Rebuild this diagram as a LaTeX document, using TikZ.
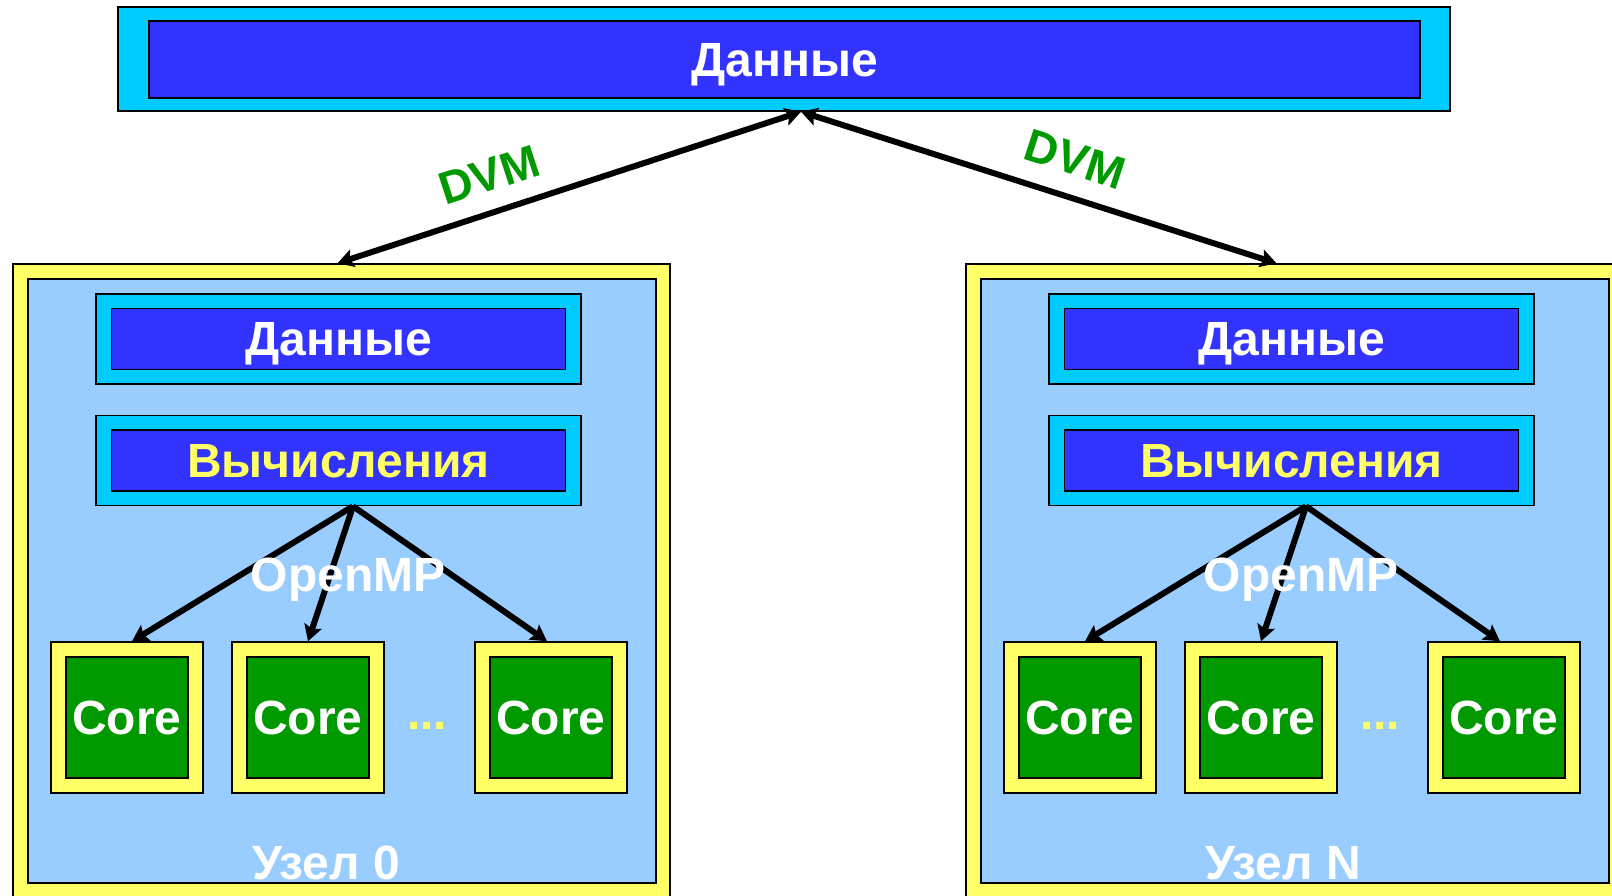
\documentclass[tikz,border=0pt]{standalone}
\usepackage{fontspec}
\setmainfont{Liberation Sans}
\usetikzlibrary{arrows.meta}
\definecolor{framecyan}{HTML}{00CCFF}
\definecolor{boxblue}{HTML}{3333FF}
\definecolor{hostyellow}{HTML}{FFFF66}
\definecolor{hostblue}{HTML}{99CCFF}
\definecolor{coregreen}{HTML}{009900}

\begin{document}
\begin{tikzpicture}[x=1pt, y=-1pt,
  every node/.style = {inner sep=0pt, font=\fontsize{48}{56}\selectfont\bfseries},
  frame/.style = {draw, line width=1.5pt, fill=framecyan},
  box/.style = {draw, line width=1.5pt, fill=boxblue, text=white, text depth=0pt},
  subframe/.style = {frame, minimum width=485pt, minimum height=90pt},
  subbox/.style = {box, minimum width=454pt, minimum height=61pt},
  hostframe/.style = {draw, line width=1.5pt, fill=hostyellow,
    minimum width=657pt, minimum height=635pt},
  hostarea/.style = {draw, line width=1.5pt, fill=hostblue,
    minimum width=628pt, minimum height=604pt},
  coreframe/.style = {draw, line width=1.5pt, fill=hostyellow,
    minimum width=152pt, minimum height=151pt},
  core/.style = {draw, line width=1.5pt, fill=coregreen, text=white,
    minimum width=122pt, minimum height=121pt},
  link/.style = {line width=6pt, -{Stealth[length=16pt, width=18pt, inset=3pt]}},
  dvmlink/.style = {line width=6pt,
    {Stealth[length=16pt, width=18pt, inset=3pt]}-{Stealth[length=16pt, width=18pt, inset=3pt]}},
  dvm/.style = {text=coregreen, font=\fontsize{46}{54}\selectfont\bfseries}]
\useasboundingbox (0,0) rectangle (1612,895);

% shared data
\node[frame, minimum width=1332pt, minimum height=104pt] (topframe) at (784,59) {};
\node[box, minimum width=1271pt, minimum height=77pt] (topdata) at (784.5,59.5) {Данные};

% node 0
\node[hostframe] (host0) at (341.5,581.5) {};
\node[hostarea] (area0) at (342,581) {};
\node[subframe] (dataframe0) at (338.5,339) {};
\node[subbox] (data0) at (dataframe0) {Данные};
\node[subframe] (calcframe0) at (338.5,460.5) {};
\node[subbox, text=hostyellow] (calc0) at (calcframe0) {Вычисления};
\node[coreframe] (coreframe01) at (127,717.5) {};
\node[core] (core01) at (coreframe01) {Core};
\node[coreframe] (coreframe02) at (308,717.5) {};
\node[core] (core02) at (coreframe02) {Core};
\node[coreframe] (coreframe03) at (551,717.5) {};
\node[core] (core03) at (coreframe03) {Core};
\node[anchor=base, text=hostyellow] (dots0) at (427,729) {...};
\draw[link] ([xshift=14.5pt]calcframe0.south) -- ([xshift=5pt]coreframe01.north);
\draw[link] ([xshift=14.5pt]calcframe0.south) -- (coreframe02.north);
\draw[link] ([xshift=14.5pt]calcframe0.south) -- ([xshift=-4pt]coreframe03.north);
\node[anchor=base, text=white] (omp0) at (348,591) {OpenMP};
\node[anchor=base west, text=white] (label0) at (252,879) {Узел 0};

% node N
\node[hostframe] (hostN) at (1294.5,581.5) {};
\node[hostarea] (areaN) at (1295,581) {};
\node[subframe] (dataframeN) at (1291.5,339) {};
\node[subbox] (dataN) at (dataframeN) {Данные};
\node[subframe] (calcframeN) at (1291.5,460.5) {};
\node[subbox, text=hostyellow] (calcN) at (calcframeN) {Вычисления};
\node[coreframe] (coreframeN1) at (1080,717.5) {};
\node[core] (coreN1) at (coreframeN1) {Core};
\node[coreframe] (coreframeN2) at (1261,717.5) {};
\node[core] (coreN2) at (coreframeN2) {Core};
\node[coreframe] (coreframeN3) at (1504,717.5) {};
\node[core] (coreN3) at (coreframeN3) {Core};
\node[anchor=base, text=hostyellow] (dotsN) at (1380,729) {...};
\draw[link] ([xshift=14.5pt]calcframeN.south) -- ([xshift=5pt]coreframeN1.north);
\draw[link] ([xshift=14.5pt]calcframeN.south) -- (coreframeN2.north);
\draw[link] ([xshift=14.5pt]calcframeN.south) -- ([xshift=-4pt]coreframeN3.north);
\node[anchor=base, text=white] (ompN) at (1301,591) {OpenMP};
\node[anchor=base west, text=white] (labelN) at (1205,879) {Узел N};

% DVM links
\draw[dvmlink] ([xshift=-4pt]host0.north) -- ([xshift=17pt]topframe.south);
\draw[dvmlink] ([xshift=17pt]topframe.south) -- ([xshift=-18pt]hostN.north);
\node[dvm, rotate=18] (dvm0) at (489,175) {DVM};
\node[dvm, rotate=-18] (dvmN) at (1075,159) {DVM};
\end{tikzpicture}
\end{document}
